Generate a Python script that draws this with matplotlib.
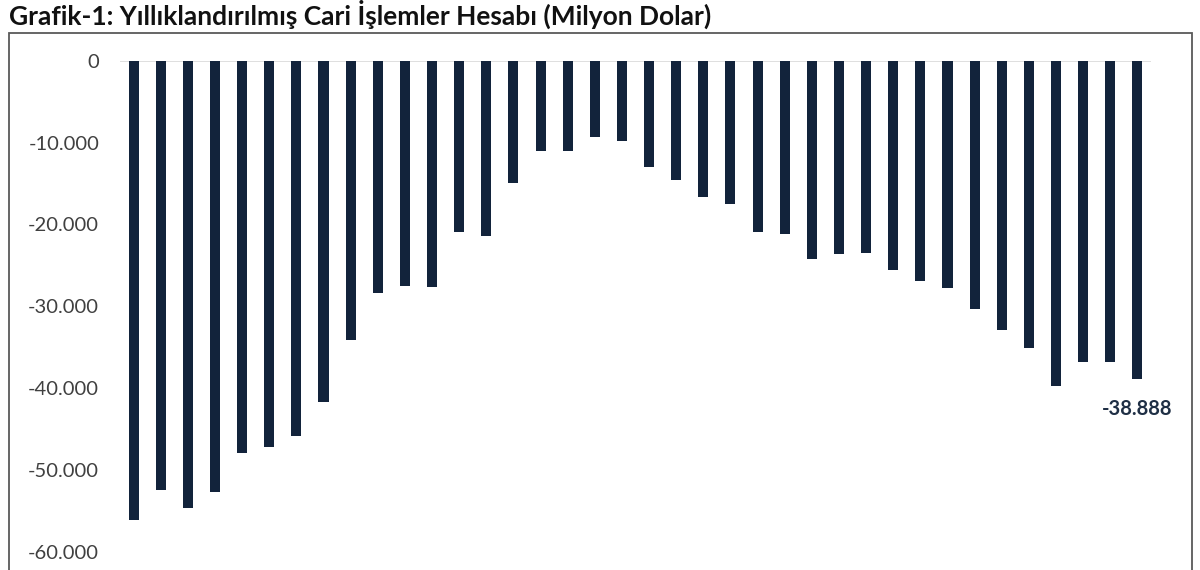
import matplotlib
matplotlib.use("Agg")
import matplotlib.pyplot as plt
import matplotlib.ticker as ticker
from matplotlib.patches import Rectangle

TITLE = "Grafik-1: Yıllıklandırılmış Cari İşlemler Hesabı (Milyon Dolar)"

MONTHS = [
    "Oca.18", "Şub.18", "Mar.18", "Nis.18", "May.18", "Haz.18",
    "Tem.18", "Ağu.18", "Eyl.18", "Eki.18", "Kas.18", "Ara.18",
    "Oca.19", "Şub.19", "Mar.19", "Nis.19", "May.19", "Haz.19",
    "Tem.19", "Ağu.19", "Eyl.19", "Eki.19", "Kas.19", "Ara.19",
    "Oca.20", "Şub.20", "Mar.20", "Nis.20", "May.20", "Haz.20",
    "Tem.20", "Ağu.20", "Eyl.20", "Eki.20", "Kas.20", "Ara.20",
    "Oca.21", "Şub.21",
]
CARI = [
    -56100, -52400, -54600, -52700, -47900, -47200, -45800, -41700,
    -34100, -28400, -27500, -27600, -20900, -21400, -14900, -11000,
    -11000, -9350, -9800, -13000, -14600, -16600, -17500, -20900,
    -21200, -24200, -23600, -23500, -25600, -26900, -27800, -30300,
    -32900, -35100, -39700, -36800, -36800, -38888,
]
Y_TICKS = [0, -10000, -20000, -30000, -40000, -50000, -60000]

BAR_COLOR  = "#12233b"
TEXT_COLOR = "#404040"
plt.rcParams["font.family"] = ["Lato", "DejaVu Sans"]

fig = plt.figure(figsize=(12, 5.7), dpi=100)

# chart frame (runs past the bottom edge, as in the cropped original)
fig.patches.append(Rectangle((9 / 1200, -0.05), 1183 / 1200, 1.05 - 33 / 570,
                             transform=fig.transFigure, fill=False,
                             edgecolor="#595959", linewidth=1.3))
fig.text(9 / 1200, 1 - 14 / 570, TITLE, fontsize=19, fontweight="bold",
         color="#111111", va="center", ha="left")

ax = fig.add_axes([120 / 1200, 1 - 552 / 570, 1031 / 1200, (552 - 60.7) / 570])
x = range(len(CARI))
ax.bar(x, CARI, width=0.37, color=BAR_COLOR)
ax.axhline(0, color="#d9d9d9", linewidth=1.2, zorder=0)

ax.set_xlim(-0.5, len(CARI) - 0.5)
ax.set_ylim(-60000, 0)
ax.set_yticks(Y_TICKS)
ax.yaxis.set_major_formatter(ticker.FuncFormatter(lambda v, p: f"{v:,.0f}".replace(",", ".")))
ax.tick_params(axis="y", length=0, labelsize=14.5, labelcolor=TEXT_COLOR, pad=15)
ax.set_xticks(list(x))
ax.set_xticklabels(MONTHS, rotation=90)
ax.tick_params(axis="x", length=0, labelsize=11, labelcolor=TEXT_COLOR, pad=14)
for s in ax.spines.values():
    s.set_visible(False)

ax.annotate(f"{CARI[-1]:,.0f}".replace(",", "."), xy=(len(CARI) - 1, CARI[-1]),
            xytext=(0, -14), textcoords="offset points", ha="center", va="top",
            fontsize=14.5, fontweight="bold", color="#1f2f45")

fig.savefig("out.png", dpi=100)
